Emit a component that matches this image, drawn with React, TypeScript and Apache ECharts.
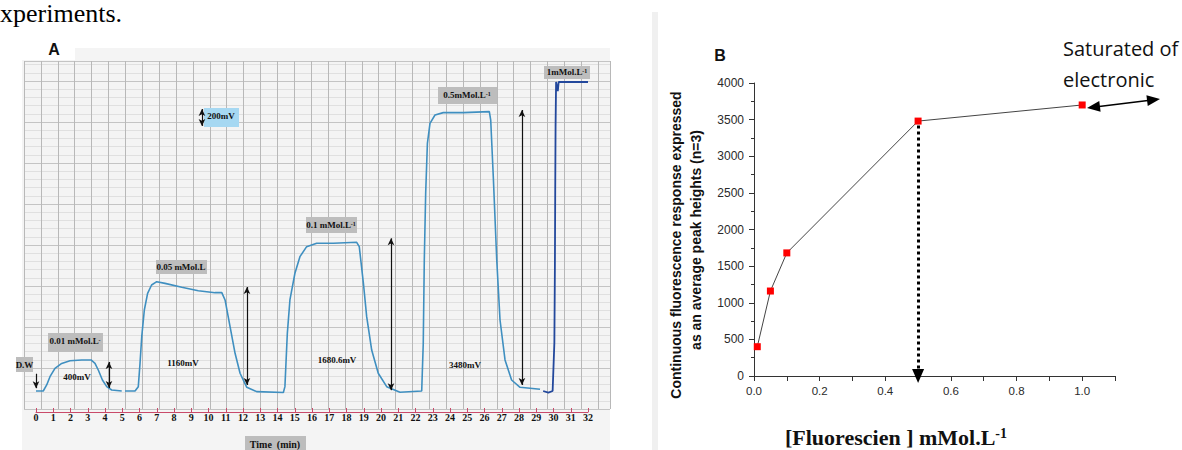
import React, { useEffect, useRef } from "react";
import * as echarts from "echarts";

// ---------- Panel A: continuous recorder trace (time in min, signal in mV) ----------
const traceLight: (number | string)[][] = [
  // D.W then 0.01 mMol.L-1
  [0, 0], [0.42, 0], [0.62, 75], [0.81, 178], [1.1, 283], [1.49, 344], [1.97, 378], [2.65, 387],
  [3.19, 387], [3.42, 345], [3.61, 262], [3.85, 137], [4.1, 54], [4.39, 12], [4.97, 0],
  [5.06, "-"],
  // 0.05 mMol.L-1
  [5.16, 0], [5.74, 0], [5.93, 54], [6.03, 345], [6.13, 677], [6.28, 1010], [6.47, 1218], [6.7, 1322],
  [7.0, 1363], [7.48, 1342], [8.45, 1293], [9.41, 1251], [10.38, 1226], [10.77, 1226], [10.96, 1135],
  [11.25, 802], [11.54, 470], [11.83, 221], [12.22, 46], [12.79, -8], [14.34, -18],
  // 0.1 mMol.L-1
  [14.43, 54], [14.57, 719], [14.72, 1135], [15.01, 1468], [15.3, 1675], [15.69, 1800], [16.27, 1842],
  [17.24, 1842], [18.59, 1854], [18.74, 1800], [18.98, 1343], [19.17, 927], [19.46, 511], [19.84, 221],
  [20.33, 54], [21.1, -15], [22.36, 0],
  // 0.5 mMol.L-1
  [22.45, 594], [22.51, 1634], [22.59, 2465], [22.69, 3089], [22.84, 3338], [23.13, 3442], [23.61, 3471],
  [24.77, 3471], [26.28, 3484], [26.36, 3379], [26.51, 2672], [26.71, 1634], [26.9, 885], [27.19, 387],
  [27.57, 137], [28.06, 46], [29.22, 21],
];
// 1 mMol.L-1 (saturated)
const traceDark: number[][] = [
  [29.4, 0], [29.7, -20], [29.95, 0], [30.05, 600], [30.08, 1500], [30.1, 2500], [30.12, 3300],
  [30.15, 3853], [30.25, 3740], [30.3, 3853], [32, 3853],
];
// measured peak-height arrows: [time, top mV, bottom mV]
const heightArrows: number[][] = [
  [4.23, 362, 37],
  [12.23, 1297, 75],
  [20.58, 1904, 10],
  [28.17, 3504, 75],
  [9.62, 3516, 3305],
];
const dwArrow: number[] = [0, 215, 35];

// ---------- Panel B: calibration ----------
const concentration = [0.01, 0.05, 0.1, 0.5, 1.0];
const peakHeight = [400, 1160, 1680.6, 3480, 3700];
const bXTickLabels = ["0.0", "0.2", "0.4", "0.6", "0.8", "1.0"];

const SERIF = '"Liberation Serif", "Times New Roman", serif';
const SANS = '"Liberation Sans", Arial, sans-serif';

function head(tx: number, ty: number, fx: number, fy: number, len: number, half: number) {
  const dx = tx - fx, dy = ty - fy;
  const d = Math.hypot(dx, dy);
  const ux = dx / d, uy = dy / d;
  const bx = tx - ux * len, by = ty - uy * len;
  return {
    type: "polygon",
    shape: { points: [[tx, ty], [bx - uy * half, by + ux * half], [bx + uy * half, by - ux * half]] },
    style: { fill: "#000" },
  };
}

function box(x: number, y: number, w: number, h: number, fill: string) {
  return { type: "rect", shape: { x, y, width: w, height: h }, style: { fill }, z: 1 };
}

function label(x: number, y: number, main: string, sup: string, size: number) {
  return {
    type: "text",
    x,
    y,
    z: 2,
    style: {
      text: sup ? `{m|${main}}{s|${sup}}` : `{m|${main}}`,
      rich: {
        m: { fontFamily: SERIF, fontWeight: "bold", fontSize: size, fill: "#111" },
        s: { fontFamily: SERIF, fontWeight: "bold", fontSize: Math.round(size * 0.65), fill: "#111", verticalAlign: "top" },
      },
      align: "center",
      verticalAlign: "middle",
    },
  };
}

export default function App() {
  const ref = useRef<HTMLDivElement>(null);
  useEffect(() => {
    if (!ref.current) return;
    const chart = echarts.init(ref.current, null, { renderer: "svg", width: 1182, height: 450 });

    const aArrowData: any[] = heightArrows.map((a) => [
      { coord: [a[0], a[1]] },
      { coord: [a[0], a[2]] },
    ]);
    aArrowData.push([{ coord: [dwArrow[0], dwArrow[1]], symbol: "none" }, { coord: [dwArrow[0], dwArrow[2]] }]);

    const graphic: any[] = [
      // panel backgrounds
      { type: "rect", z: -5, shape: { x: 22, y: 48, width: 588, height: 402 }, style: { fill: "#f4f4f4" } },
      { type: "rect", z: -4, shape: { x: 22, y: 48, width: 53, height: 12 }, style: { fill: "#ffffff" } },
      { type: "rect", z: -5, shape: { x: 652, y: 12, width: 6, height: 438 }, style: { fill: "#f0f0f0" } },
      {
        type: "text", x: 0, y: 0,
        style: { text: "xperiments.", font: `26px ${SERIF}`, fill: "#000", verticalAlign: "top" },
      },
      {
        type: "text", x: 54, y: 49,
        style: { text: "A", font: `bold 16px ${SANS}`, fill: "#111", align: "center", verticalAlign: "middle" },
      },
      {
        type: "text", x: 720, y: 55,
        style: { text: "B", font: `bold 16px ${SANS}`, fill: "#111", align: "center", verticalAlign: "middle" },
      },
      // panel A boxes
      box(16, 357, 17, 15, "#bdbdbd"), label(24.5, 364.5, "D.W", "", 9),
      box(48, 333, 55, 19, "#bdbdbd"), label(75, 341, "0.01 mMol.L", "-", 9),
      box(156, 260, 51, 14, "#bdbdbd"), label(181, 267, "0.05 mMol.L", "", 9),
      box(306, 217, 51, 16, "#bdbdbd"), label(331, 225, "0.1 mMol.L", "-1", 9),
      box(438, 87, 59, 17, "#bdbdbd"), label(467, 95, "0.5mMol.L", "-1", 9),
      box(544, 66, 46, 13, "#bdbdbd"), label(567, 72, "1mMol.L", "-1", 9),
      box(204, 108, 35, 19, "#a6d8f2"), label(221, 116, "200mV", "", 9),
      box(245, 436, 61, 16, "#bdbdbd"), label(275, 444, "Time  (min)", "", 10),
      label(77, 377, "400mV", "", 9),
      label(183, 363, "1160mV", "", 9),
      label(337, 360, "1680.6mV", "", 9),
      label(465, 365, "3480mV", "", 9),
      // panel B texts
      {
        type: "text", x: 676, y: 245, rotation: Math.PI / 2,
        style: { text: "Continuous fluorescence response expressed", font: `bold 14px ${SANS}`, fill: "#111", align: "center", verticalAlign: "middle" },
      },
      {
        type: "text", x: 696, y: 240, rotation: Math.PI / 2,
        style: { text: "as an average peak heights (n=3)", font: `bold 14px ${SANS}`, fill: "#111", align: "center", verticalAlign: "middle" },
      },
      {
        type: "text", x: 896, y: 437,
        style: {
          text: "{m|[Fluorescien ] mMol.L}{s|-1}",
          rich: {
            m: { fontFamily: SERIF, fontWeight: "bold", fontSize: 22, fill: "#111" },
            s: { fontFamily: SERIF, fontWeight: "bold", fontSize: 14, fill: "#111", verticalAlign: "top" },
          },
          align: "center", verticalAlign: "middle",
        },
      },
      {
        type: "text", x: 1063, y: 48,
        style: { text: "Saturated of", font: `20px "Open Sans", ${SANS}`, fill: "#111", verticalAlign: "middle" },
      },
      {
        type: "text", x: 1063, y: 79,
        style: { text: "electronic", font: `20px "Open Sans", ${SANS}`, fill: "#111", verticalAlign: "middle" },
      },
      { type: "line", shape: { x1: 1097, y1: 106.8, x2: 1150, y2: 100.2 }, style: { stroke: "#000", lineWidth: 1.6 } },
      head(1087, 108, 1160, 99, 13, 5.5),
      head(1160, 99, 1087, 108, 13, 5.5),
    ];

    const option: any = {
      animation: false,
      backgroundColor: "#ffffff",
      grid: [
        { left: 24, top: 61, width: 586, height: 348 },
        { left: 36, top: 61, width: 552, height: 351 },
        { left: 754, top: 83, width: 361, height: 293 },
      ],
      xAxis: [
        {
          type: "value", gridIndex: 0, min: 0, max: 34.7, interval: 1,
          axisLine: { show: false }, axisTick: { show: false }, axisLabel: { show: false },
          splitLine: { show: true, lineStyle: { color: "#b8b8b8", width: 1 } },
        },
        {
          type: "value", gridIndex: 1, min: 0, max: 32, interval: 1,
          axisLine: { show: true, onZero: false, lineStyle: { color: "#c94a6a", width: 1 } },
          axisTick: { show: true, inside: true, length: 4, lineStyle: { color: "#c94a6a" } },
          axisLabel: { show: true, margin: 0, fontFamily: SERIF, fontWeight: "bold", fontSize: 10, color: "#111" },
          splitLine: { show: false },
        },
        {
          type: "value", gridIndex: 2, min: 0, max: 1.1, interval: 0.1,
          axisLine: { show: true, onZero: false, lineStyle: { color: "#333", width: 1 } },
          axisTick: { show: true, length: 5, lineStyle: { color: "#333" } },
          axisLabel: {
            show: true, margin: 9, fontFamily: SANS, fontSize: 11.5, color: "#2a2a2a",
            formatter: (v: number) => {
              const k = Math.round(v * 10);
              return k % 2 === 0 && k / 2 < bXTickLabels.length ? bXTickLabels[k / 2] : "";
            },
          },
          splitLine: { show: false },
        },
      ],
      yAxis: [
        {
          type: "value", gridIndex: 0, min: 0, max: 84.9, interval: 10,
          axisLine: { show: false }, axisTick: { show: false }, axisLabel: { show: false },
          minorTick: { show: false, splitNumber: 5 },
          splitLine: { show: true, lineStyle: { color: "#c4c4c4", width: 1 } },
          minorSplitLine: { show: true, lineStyle: { color: "#e0e0e0", width: 1 } },
        },
        { type: "value", gridIndex: 1, min: -262, max: 4115, show: false },
        {
          type: "value", gridIndex: 2, min: 0, max: 4000, interval: 500,
          axisLine: { show: true, onZero: false, lineStyle: { color: "#333", width: 1 } },
          axisTick: { show: true, length: 5, lineStyle: { color: "#333" } },
          minorTick: { show: true, splitNumber: 2, length: 3, lineStyle: { color: "#333" } },
          axisLabel: {
            show: true, margin: 10, fontFamily: SANS, fontSize: 12, color: "#2a2a2a",
            formatter: (v: number) => String(v),
          },
          splitLine: { show: false },
        },
      ],
      series: [
        {
          type: "line", xAxisIndex: 1, yAxisIndex: 1, data: traceLight, showSymbol: false, symbol: "none",
          connectNulls: false, smooth: false,
          lineStyle: { color: "#3f8fc0", width: 1.6 },
          markLine: {
            silent: true, symbol: ["arrow", "arrow"], symbolSize: [5, 7],
            lineStyle: { color: "#111", width: 1.2, type: "solid" },
            label: { show: false }, emphasis: { disabled: true },
            data: aArrowData,
          },
        },
        {
          type: "line", xAxisIndex: 1, yAxisIndex: 1, data: traceDark, showSymbol: false, symbol: "none",
          lineStyle: { color: "#23489c", width: 1.8 },
        },
        {
          type: "line", xAxisIndex: 2, yAxisIndex: 2,
          data: concentration.map((c, i) => [c, peakHeight[i]]),
          symbol: "rect", symbolSize: 7, showSymbol: true,
          itemStyle: { color: "#ff0000" },
          lineStyle: { color: "#444", width: 1 },
          markLine: {
            silent: true, symbol: ["none", "triangle"], symbolSize: [12, 14],
            lineStyle: { color: "#000", width: 3, type: [3, 3] },
            label: { show: false }, emphasis: { disabled: true },
            data: [[{ coord: [0.5, 3420] }, { coord: [0.5, 0] }]],
          },
        },
      ],
      graphic,
    };
    chart.setOption(option);
    return () => chart.dispose();
  }, []);
  return (
    <div
      ref={ref}
      style={{ position: "absolute", left: 0, top: 0, width: 1182, height: 450, background: "#fff" }}
    />
  );
}
